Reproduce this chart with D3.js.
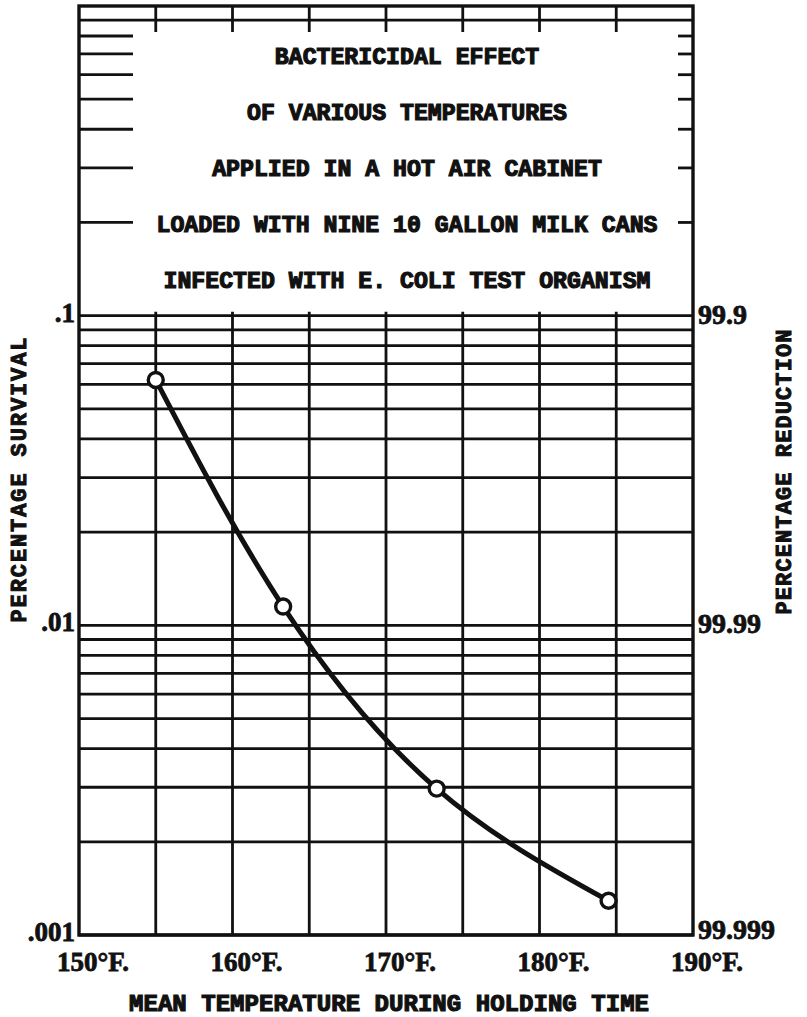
<!DOCTYPE html>
<html>
<head>
<meta charset="utf-8">
<script src="https://cdn.jsdelivr.net/npm/d3@7"></script>
<style>
  html, body { margin: 0; padding: 0; background: #fff; }
  svg { display: block; }
</style>
</head>
<body>
<svg id="chart" width="807" height="1017"></svg>
<script>
// ---- data ----
const temperatures = [155, 163.3, 173.3, 184.5];          // °F
const survival = [0.062, 0.0115, 0.00297, 0.00129];        // percentage survival
const xTickValues = [150, 160, 170, 180, 190];
const xTickLabels = ["150°F.", "160°F.", "170°F.", "180°F.", "190°F."];
const xGridValues = [155, 160, 165, 170, 175, 180, 185];
const yTickValues = [0.1, 0.01, 0.001];
const yTickLabelsLeft = [".1", ".01", ".001"];
const yTickLabelsRight = ["99.9", "99.99", "99.999"];
const upperTickValues = [0.2, 0.3, 0.4, 0.5, 0.6, 0.7, 0.8];
const titleLines = [
  "BACTERICIDAL EFFECT",
  "OF VARIOUS TEMPERATURES",
  "APPLIED IN A HOT AIR CABINET",
  "LOADED WITH NINE 10 GALLON MILK CANS",
  "INFECTED WITH E. COLI TEST ORGANISM"
];
const xTitle = "MEAN TEMPERATURE DURING HOLDING TIME";
const yTitleLeft = "PERCENTAGE SURVIVAL";
const yTitleRight = "PERCENTAGE REDUCTION";

// ---- layout ----
const L = 79, R = 693, T = 6, B = 935;
const svg = d3.select("#chart");
svg.append("rect").attr("width", 807).attr("height", 1017).attr("fill", "#fff");

const x = d3.scaleLinear().domain([150, 190]).range([L, R]);
const y = d3.scaleLog().domain([0.001, 1]).range([B, T]);

const ink = "#111";
const titleFont = "'Liberation Mono', 'DejaVu Sans Mono', monospace";
const numFont = "'Liberation Serif', 'DejaVu Serif', serif";
const gw = 2.8;

// horizontal grid lines in the two lower decades (1..9 multiples)
const gridY = [];
[0.001, 0.01].forEach(d => { for (let k = 1; k <= 9; k++) gridY.push(d * k); });
gridY.push(0.1);
const gLines = svg.append("g");
gLines.selectAll("line.h").data(gridY).join("line")
  .attr("x1", L).attr("x2", R)
  .attr("y1", d => y(d)).attr("y2", d => y(d))
  .attr("stroke", ink).attr("stroke-width", gw);

// vertical grid lines (lower region only)
gLines.selectAll("line.v").data(xGridValues).join("line")
  .attr("x1", d => x(d)).attr("x2", d => x(d))
  .attr("y1", y(0.1) - 4).attr("y2", B)
  .attr("stroke", ink).attr("stroke-width", gw);

// upper region: 0.9 line full width
gLines.append("line")
  .attr("x1", L).attr("x2", R).attr("y1", y(0.9)).attr("y2", y(0.9))
  .attr("stroke", ink).attr("stroke-width", gw);
// upper region: left long ticks, right short ticks
gLines.selectAll("line.ul").data(upperTickValues).join("line")
  .attr("x1", L).attr("x2", L + 54)
  .attr("y1", d => y(d)).attr("y2", d => y(d))
  .attr("stroke", ink).attr("stroke-width", gw);
gLines.selectAll("line.ur").data(upperTickValues).join("line")
  .attr("x1", R - 15).attr("x2", R)
  .attr("y1", d => y(d)).attr("y2", d => y(d))
  .attr("stroke", ink).attr("stroke-width", gw);
// top vertical ticks
gLines.selectAll("line.tv").data(xGridValues).join("line")
  .attr("x1", d => x(d)).attr("x2", d => x(d))
  .attr("y1", T).attr("y2", T + 26)
  .attr("stroke", ink).attr("stroke-width", gw);

// frame
svg.append("rect")
  .attr("x", L).attr("y", T).attr("width", R - L).attr("height", B - T)
  .attr("fill", "none").attr("stroke", ink).attr("stroke-width", 3.4);

// title
svg.append("g").selectAll("text").data(titleLines).join("text")
  .attr("x", 407).attr("y", (d, i) => 64 + i * 56)
  .attr("text-anchor", "middle")
  .attr("font-family", titleFont).attr("font-weight", "bold")
  .attr("font-size", 23.2)
  .attr("fill", ink).attr("stroke", ink).attr("stroke-width", 1.2)
  .text(d => d);

// curve
const pts = temperatures.map((t, i) => [x(t), y(survival[i])]);
const line = d3.line().curve(d3.curveNatural);
svg.append("path").attr("d", line(pts))
  .attr("fill", "none").attr("stroke", ink).attr("stroke-width", 5);
svg.append("g").selectAll("circle").data(pts).join("circle")
  .attr("cx", d => d[0]).attr("cy", d => d[1]).attr("r", 7.5)
  .attr("fill", "#fff").attr("stroke", ink).attr("stroke-width", 3.4);

// y tick labels left
svg.append("g").selectAll("text").data(yTickValues).join("text")
  .attr("x", 75).attr("y", d => y(d) + 6)
  .attr("text-anchor", "end")
  .attr("font-family", numFont).attr("font-weight", "bold").attr("font-size", 27)
  .attr("fill", ink).attr("stroke", ink).attr("stroke-width", 0.8)
  .text((d, i) => yTickLabelsLeft[i]);
// y tick labels right
svg.append("g").selectAll("text").data(yTickValues).join("text")
  .attr("x", 698).attr("y", d => y(d) + (d === 0.001 ? 4 : 8))
  .attr("text-anchor", "start")
  .attr("font-family", numFont).attr("font-weight", "bold").attr("font-size", 28)
  .attr("fill", ink).attr("stroke", ink).attr("stroke-width", 0.8)
  .text((d, i) => yTickLabelsRight[i]);

// x tick labels
svg.append("g").selectAll("text").data(xTickValues).join("text")
  .attr("x", d => x(d) - 22).attr("y", 971)
  .attr("text-anchor", "start")
  .attr("font-family", numFont).attr("font-weight", "bold").attr("font-size", 27)
  .attr("fill", ink).attr("stroke", ink).attr("stroke-width", 0.8)
  .text((d, i) => xTickLabels[i]);

// axis titles
svg.append("text")
  .attr("x", 389).attr("y", 1011)
  .attr("text-anchor", "middle")
  .attr("font-family", titleFont).attr("font-weight", "bold").attr("font-size", 24)
  .attr("textLength", 520).attr("lengthAdjust", "spacing")
  .attr("fill", ink).attr("stroke", ink).attr("stroke-width", 1.2)
  .text(xTitle);
svg.append("text")
  .attr("transform", "translate(26,480) rotate(-90)")
  .attr("text-anchor", "middle")
  .attr("font-family", titleFont).attr("font-weight", "bold").attr("font-size", 22)
  .attr("textLength", 285).attr("lengthAdjust", "spacing")
  .attr("fill", ink).attr("stroke", ink).attr("stroke-width", 1)
  .text(yTitleLeft);
svg.append("text")
  .attr("transform", "translate(791,472) rotate(-90)")
  .attr("text-anchor", "middle")
  .attr("font-family", titleFont).attr("font-weight", "bold").attr("font-size", 22)
  .attr("textLength", 285).attr("lengthAdjust", "spacing")
  .attr("fill", ink).attr("stroke", ink).attr("stroke-width", 1)
  .text(yTitleRight);
</script>
</body>
</html>
